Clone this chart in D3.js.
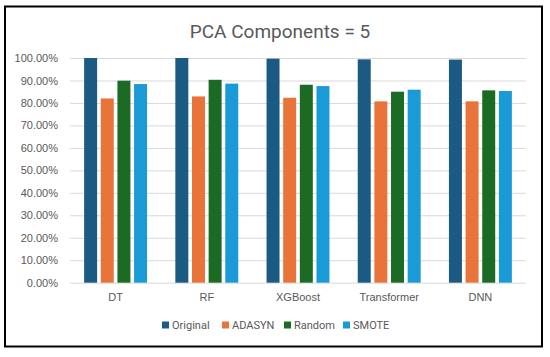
<!DOCTYPE html>
<html>
<head>
<meta charset="utf-8">
<script src="https://cdn.jsdelivr.net/npm/d3@7"></script>
<style>
  html, body { margin: 0; padding: 0; background: #fff; }
  svg { display: block; font-family: Roboto, "Noto Sans", sans-serif; }
</style>
</head>
<body>
<svg id="chart" width="550" height="357"></svg>
<script>
const categories = ["DT", "RF", "XGBoost", "Transformer", "DNN"];
const seriesNames = ["Original", "ADASYN", "Random", "SMOTE"];
const original = [1.000, 1.000, 0.997, 0.994, 0.993];
const adasyn   = [0.820, 0.829, 0.823, 0.807, 0.807];
const random   = [0.899, 0.903, 0.881, 0.850, 0.856];
const smote    = [0.884, 0.886, 0.875, 0.859, 0.853];
const yTicks = [0, 0.1, 0.2, 0.3, 0.4, 0.5, 0.6, 0.7, 0.8, 0.9, 1.0];
const title = "PCA Components = 5";

const seriesValues = [original, adasyn, random, smote];
const colors = ["#1b5a82", "#e8743a", "#1c6b25", "#1a9ad6"];

const svg = d3.select("#chart");
const plot = { left: 70, right: 526, top: 58, bottom: 282.7 };

// outer frame
svg.append("rect").attr("x", 5).attr("y", 6.5).attr("width", 537).attr("height", 340)
  .attr("fill", "#fff").attr("stroke", "#000").attr("stroke-width", 2);

const y = d3.scaleLinear().domain([0, 1]).range([plot.bottom, plot.top]);
const x0 = d3.scaleBand().domain(categories).range([plot.left, plot.right])
  .paddingInner(0.31).paddingOuter(0.155);
const x1 = d3.scaleBand().domain(seriesNames).range([0, x0.bandwidth()]).paddingInner(0.22);

// gridlines + y labels
const yAxis = d3.axisLeft(y).tickValues(yTicks).tickFormat(d3.format(".2%"))
  .tickSize(-(plot.right - plot.left)).tickPadding(12);
const gy = svg.append("g").attr("transform", `translate(${plot.left},0)`).call(yAxis);
gy.select(".domain").remove();
gy.selectAll(".tick line").attr("stroke", "#d9d9d9").attr("stroke-width", 1);
gy.selectAll(".tick text").attr("fill", "#595959").attr("font-size", 11);

// bars
const groups = svg.append("g").selectAll("g").data(categories).join("g")
  .attr("transform", d => `translate(${x0(d)},0)`);
groups.selectAll("rect")
  .data((c, i) => seriesNames.map((s, j) => ({ s, j, v: seriesValues[j][i] })))
  .join("rect")
  .attr("x", d => x1(d.s))
  .attr("width", x1.bandwidth())
  .attr("y", d => y(d.v))
  .attr("height", d => y(0) - y(d.v))
  .attr("fill", d => colors[d.j]);

// x axis labels
const xAxis = d3.axisBottom(x0).tickSize(0).tickPadding(11);
const gx = svg.append("g").attr("transform", `translate(0,${plot.bottom})`).call(xAxis);
gx.select(".domain").remove();
gx.selectAll(".tick text").attr("fill", "#595959").attr("font-size", 11);

// title
svg.append("text").attr("x", 280).attr("y", 38).attr("text-anchor", "middle")
  .attr("fill", "#595959").attr("font-size", 19).text(title);

// legend
const legendX = [162, 222, 284, 343];
const lg = svg.append("g").selectAll("g").data(seriesNames).join("g")
  .attr("transform", (d, i) => `translate(${legendX[i]},325)`);
lg.append("rect").attr("x", 0).attr("y", -3.5).attr("width", 7).attr("height", 7)
  .attr("fill", (d, i) => colors[i]);
lg.append("text").attr("x", 10).attr("y", 4).attr("fill", "#595959")
  .attr("font-size", 11).text(d => d);
</script>
</body>
</html>
